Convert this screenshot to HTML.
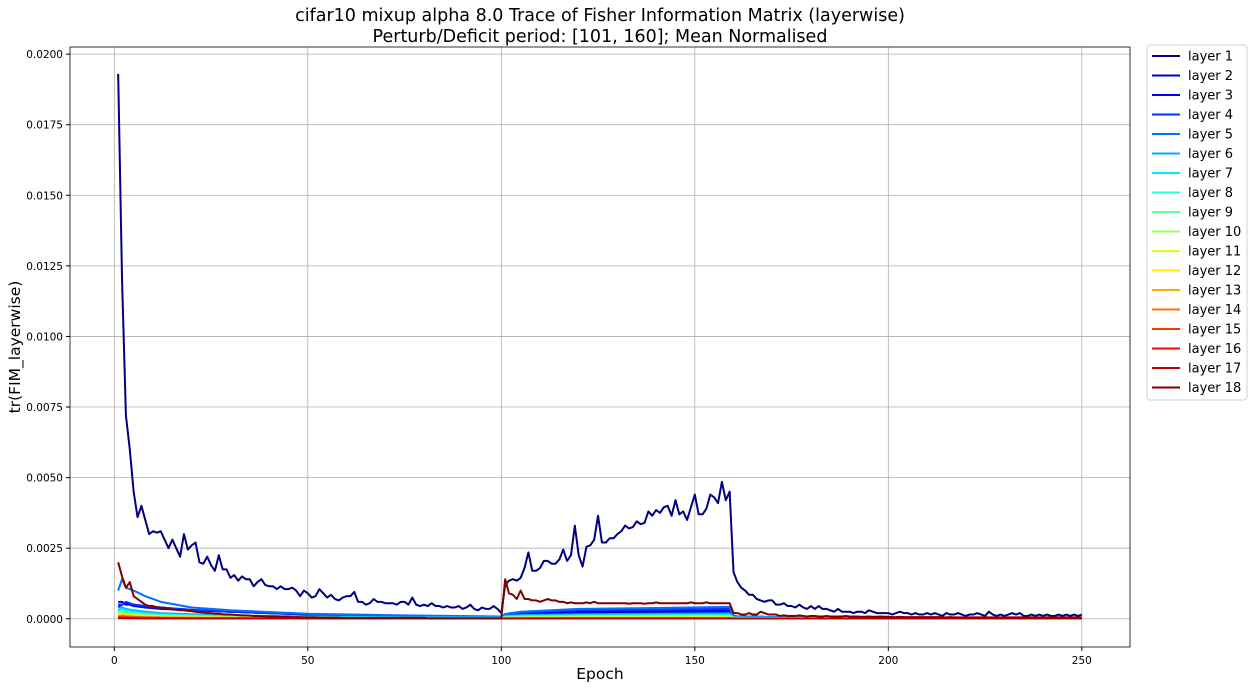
<!DOCTYPE html>
<html><head><meta charset="utf-8"><style>
body{margin:0;background:#fff;font-family:"Liberation Sans","DejaVu Sans",sans-serif;}
svg text{font-family:"DejaVu Sans","Liberation Sans",sans-serif;}
</style></head><body>
<svg id="chart" width="1254" height="689" xmlns="http://www.w3.org/2000/svg">
<text x="600" y="21" text-anchor="middle" font-size="17.5">cifar10 mixup alpha 8.0 Trace of Fisher Information Matrix (layerwise)</text>
<text x="600" y="42" text-anchor="middle" font-size="17.5">Perturb/Deficit period: [101, 160]; Mean Normalised</text>
<text x="600" y="679" text-anchor="middle" font-size="15.5">Epoch</text>
<text transform="translate(20,347) rotate(-90)" text-anchor="middle" font-size="15.5">tr(FIM_layerwise)</text>
<g id="grid"></g><g id="series"></g><g id="axes"></g><g id="legend"></g>
</svg>
<script>
// values in units of 1e-4
const layer1 = [193,120,72,60,45,36,40,35,30,31,30.5,31,28,25,28,25,22,30,24.5,26,27,20,19.5,22,19,17,22.5,17.5,17.5,14.5,15.5,13.5,15,14,14,11.5,13,14,12,11.5,11.5,10.5,11.5,10.5,10.5,11,10,8,10,9,7.5,8,10.5,9,7.5,8.5,7,6.5,7.5,8,8,9.5,6,6,5,5.5,7,6,6,5.5,5.5,5.5,5,6,6,5,7.5,5,4.5,5,4.5,5.5,4.5,4.5,4,4.5,4,4,4.5,3.5,4,5,3.5,3,4,3.5,3.5,4.5,3.5,2,
12,13.5,14,13.5,14.5,18,23.5,17,17,18,20.5,20.5,19.5,19.5,21,24.5,20.5,22.5,33,22.5,18.5,25.5,26,28,36.5,27,27,28.5,28.5,30,31,33,32,32.5,34.5,33.5,34,38,36.5,38.5,37.5,39.5,40,36.5,42,37,38,35,39.5,44,37,37,39,44,43,41,48.5,42,45,16.5,
13,11,10,8.5,8.5,7,6.5,6,6.5,6.5,5,5,5.5,4.5,4.5,4,5,4,3.5,4.5,3.5,4.5,3.5,3.5,3,2.5,3.5,2.5,2.5,2.5,2,2.5,2.5,2,3,2.5,2,2,2,2,
1.5,2,2.5,2,2,1.5,2,1.5,1.5,2,1.5,2,1.5,1,2,1.5,1.5,2,1.5,1,1.5,1.5,2,1.5,1,2.5,1.5,1,1.5,1,1.5,2,1.5,2,1,1,1.5,1,1.5,1,1.5,1,1,1.5,1,1.5,1,1.5,1,1.5];
const layer18 = [20,15,11,13,8,7,6,5,4.5,4.5,4,4,3.8,3.5,3.3,3.2,3,3,2.8,2.7,2.5,2.3,2.2,2,2,1.8,1.8,1.6,1.5,1.5,1.4,1.3,1.2,1.2,1.1,1,1,0.9,0.9,0.8,0.8,0.8,0.7,0.7,0.7,0.6,0.6,0.6,0.5,0.5,0.5,0.5,0.4,0.4,0.4,0.4,0.4,0.4,0.3,0.3,0.3,0.3,0.3,0.3,0.3,0.3,0.3,0.3,0.3,0.3,0.3,0.3,0.3,0.3,0.3,0.3,0.3,0.3,0.3,0.3,0.2,0.2,0.2,0.2,0.2,0.2,0.2,0.2,0.2,0.2,0.2,0.2,0.2,0.2,0.2,0.2,0.2,0.2,0.2,0.2,
14,9,8.5,7,10,7,7,6.5,6.5,6,6.5,7,6.5,6.5,6,6,5.5,5.8,5.5,5.5,5.5,5.8,5.5,6,5.5,5.5,5.5,5.5,5.5,5.5,5.5,5.5,5.3,5.5,5.5,5.5,5.3,5.5,5.5,5.8,5.5,5.5,5.5,5.5,5.5,5.5,5.5,5.5,5.8,5.5,5.5,5.5,5.8,5.5,5.5,5.5,5.5,5.5,5.5,2,
2,1.5,1.5,2,1.5,1.5,2.5,2,1.5,1.5,1.5,1,1.2,1,1,1,1.2,1,0.8,1,1,0.8,0.8,1,0.8,0.8,0.8,0.8,1,0.8,0.8,0.8,0.7,0.7,0.8,0.7,0.7,0.8,0.7,0.7,
0.6,0.6,0.7,0.6,0.6,0.6,0.6,0.6,0.6,0.6,0.6,0.6,0.6,0.5,0.5,0.6,0.5,0.5,0.5,0.5,0.5,0.5,0.5,0.5,0.5,0.5,0.5,0.5,0.5,0.5,0.5,0.5,0.5,0.5,0.5,0.5,0.5,0.5,0.5,0.5,0.5,0.5,0.5,0.5,0.5,0.5,0.5,0.5,0.5,0.5];
const sparseEpochs = [1,2,3,5,8,12,20,30,50,75,100,101,105,120,140,159,160,161,170,200,250];
const layer2 = [6,6,5,5,4.5,4,3,2.5,1.5,1,0.5,1,1.5,2,2.2,2.3,1,0.8,0.6,0.4,0.3];
const layer3 = [5,5,5.5,4.5,4,3.5,3,2.5,1.5,1,0.6,1.2,1.8,2.5,2.7,2.8,1,0.8,0.6,0.4,0.3];
const layer4 = [4,5,6,5,4.5,4,3.2,2.5,1.6,1,0.7,1.5,2.2,3,3.3,3.5,1,0.8,0.6,0.4,0.3];
const layer5 = [10,14,11,10,8,6,4,3,1.8,1.2,0.8,1.7,2.5,3.5,3.8,4.2,1,0.8,0.6,0.4,0.3];
const layer6 = [3,4,3.5,3,2.5,2,1.6,1.2,0.8,0.5,0.4,1,1.3,1.6,1.8,1.9,0.6,0.5,0.4,0.3,0.2];
const layer7 = [3,3.5,3,2.5,2,1.6,1.2,0.9,0.6,0.4,0.3,0.8,1,1.2,1.3,1.4,0.5,0.4,0.3,0.2,0.2];
const layer8 = [2.5,3,2.5,2,1.6,1.3,1,0.7,0.5,0.3,0.3,0.6,0.8,1,1.1,1.1,0.4,0.3,0.3,0.2,0.1];
const layer9 = [2,2.5,2,1.7,1.4,1.1,0.8,0.6,0.4,0.3,0.2,0.5,0.6,0.8,0.9,0.9,0.3,0.3,0.2,0.2,0.1];
const layer10 = [1.8,2,1.8,1.5,1.2,1,0.7,0.5,0.3,0.2,0.2,0.4,0.5,0.6,0.7,0.7,0.3,0.2,0.2,0.1,0.1];
const layer11 = [1.5,1.8,1.5,1.3,1,0.8,0.6,0.4,0.3,0.2,0.2,0.3,0.4,0.5,0.5,0.5,0.2,0.2,0.1,0.1,0.1];
const layer12 = [1.2,1.5,1.2,1,0.8,0.6,0.5,0.3,0.2,0.2,0.1,0.3,0.3,0.4,0.4,0.4,0.2,0.1,0.1,0.1,0.1];
const layer13 = [1,1.2,1,0.8,0.7,0.5,0.4,0.3,0.2,0.1,0.1,0.2,0.3,0.3,0.3,0.3,0.1,0.1,0.1,0.1,0.1];
const layer14 = [0.8,1,0.8,0.7,0.5,0.4,0.3,0.2,0.1,0.1,0.1,0.2,0.2,0.2,0.2,0.2,0.1,0.1,0.1,0.1,0.1];
const layer15 = [0.6,0.7,0.6,0.5,0.4,0.3,0.2,0.2,0.1,0.1,0.1,0.1,0.1,0.2,0.2,0.2,0.1,0.1,0.1,0.1,0.1];
const layer16 = [0.3,0.3,0.3,0.2,0.2,0.2,0.1,0.1,0.1,0.1,0.1,0.1,0.1,0.1,0.1,0.1,0.1,0.1,0.1,0.1,0.1];
const layer17 = [0.2,0.2,0.2,0.2,0.1,0.1,0.1,0.1,0.1,0.1,0.1,0.1,0.1,0.1,0.1,0.1,0.1,0.1,0.1,0.1,0.1];
const xTicks = [0,50,100,150,200,250];
const yTicks = [0,0.0025,0.005,0.0075,0.01,0.0125,0.015,0.0175,0.02];
const yTickLabels = ["0.0000","0.0025","0.0050","0.0075","0.0100","0.0125","0.0150","0.0175","0.0200"];

const NS="http://www.w3.org/2000/svg";
const L=70,R=1130,T=47,B=647;
const xMin=-11.45,xMax=262.45,yMin=-0.001,yMax=0.020252;
const xs=v=>L+(v-xMin)/(xMax-xMin)*(R-L);
const ys=v=>B-(v-yMin)/(yMax-yMin)*(B-T);
function mk(tag,attrs,parent){const e=document.createElementNS(NS,tag);for(const k in attrs)e.setAttribute(k,attrs[k]);parent.appendChild(e);return e;}
function jet(t){const c=x=>Math.round(255*Math.max(0,Math.min(1,x)));
 return `rgb(${c(1.5-Math.abs(4*t-3))},${c(1.5-Math.abs(4*t-2))},${c(1.5-Math.abs(4*t-1))})`;}
const grid=document.getElementById('grid'),axes=document.getElementById('axes'),series=document.getElementById('series'),legend=document.getElementById('legend');
xTicks.forEach(v=>{
 const g=mk('line',{x1:xs(v),x2:xs(v),y1:T,y2:B,stroke:'#b0b0b0','stroke-width':0.8},grid);
 
 
 mk('line',{x1:xs(v),x2:xs(v),y1:B,y2:B+4,stroke:'#000'},axes);
 const t=mk('text',{x:xs(v),y:B+17,'text-anchor':'middle','font-size':10.5},axes);t.textContent=v;
 
 
});
yTicks.forEach((v,i)=>{
 const g=mk('line',{x1:L,x2:R,y1:ys(v),y2:ys(v),stroke:'#b0b0b0','stroke-width':0.8},grid);
 
 
 mk('line',{x1:L-4,x2:L,y1:ys(v),y2:ys(v),stroke:'#000'},axes);
 const t=mk('text',{x:L-7,y:ys(v)+4,'text-anchor':'end','font-size':10.5},axes);t.textContent=yTickLabels[i];
 
 
});
const frame=mk('rect',{x:L,y:T,width:R-L,height:B-T,fill:'none',stroke:'#000','stroke-width':0.8},axes);


const sparse=[layer2,layer3,layer4,layer5,layer6,layer7,layer8,layer9,layer10,layer11,layer12,layer13,layer14,layer15,layer16,layer17];
const all=[{ep:layer1.map((_,i)=>i+1),v:layer1}];
sparse.forEach(a=>all.push({ep:sparseEpochs,v:a}));
all.push({ep:layer18.map((_,i)=>i+1),v:layer18});
// draw later layers first so layer 1 is on top? matplotlib draws in order: layer 18 on top
all.forEach((s,i)=>{
 const d=s.v.map((v,j)=>(j?'L':'M')+xs(s.ep[j]).toFixed(2)+','+ys(v*1e-4).toFixed(2)).join('');
 const p=mk('path',{d:d,fill:'none',stroke:jet(i/17),'stroke-width':2,'stroke-linejoin':'round'},series);
 
 
});
const lb=mk('rect',{x:1147,y:45,width:100,height:355,rx:3,fill:'#fff',stroke:'#d0d0d0'},legend);


for(let i=0;i<18;i++){
 const y=56+i*19.5;
 const g=mk('g',{},legend);
 
 
 mk('line',{x1:1152,x2:1180,y1:y,y2:y,stroke:jet(i/17),'stroke-width':2},g);
 const t=mk('text',{x:1188,y:y+4.5,'font-size':13},g);t.textContent='layer '+(i+1);
}
</script>
</body></html>
